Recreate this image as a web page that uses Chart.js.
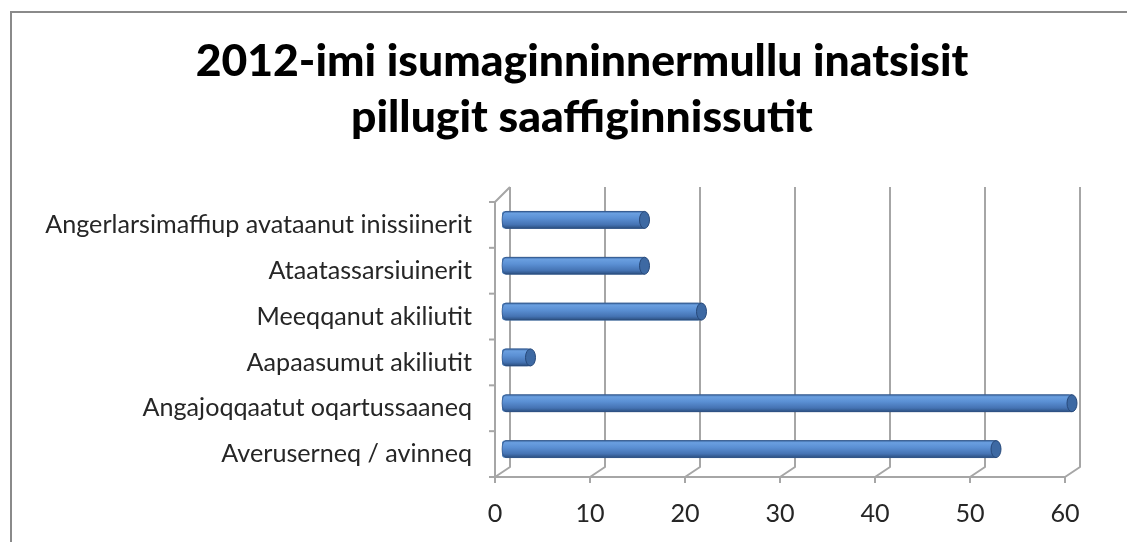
<!DOCTYPE html>
<html>
<head>
<meta charset="utf-8">
<script src="https://cdn.jsdelivr.net/npm/chart.js@4.4.1/dist/chart.umd.min.js"></script>
<style>
  html, body { margin: 0; padding: 0; background: #fff; }
  #wrap { width: 1127px; height: 542px; }
</style>
</head>
<body>
<div id="wrap"><canvas id="chart" width="1127" height="542"></canvas></div>
<script>
// data
const titleLines = ["2012-imi isumaginninnermullu inatsisit", "pillugit saaffiginnissutit"];
const categories = [
    "Angerlarsimaffiup avataanut inissiinerit",
    "Ataatassarsiuinerit",
    "Meeqqanut akiliutit",
    "Aapaasumut akiliutit",
    "Angajoqqaatut oqartussaaneq",
    "Averuserneq / avinneq"
];
const values = [15, 15, 21, 3, 60, 52];
const xTicks = [0, 10, 20, 30, 40, 50, 60];

const FONT = "Lato, 'Open Sans', sans-serif";

// size fonts so text widths match the picture
let mctx = document.createElement("canvas").getContext("2d");
function fitSize(text, weight, target) {
    mctx.font = weight + " 100px " + FONT;
    return 100 * target / mctx.measureText(text).width;
}
let titleSize = fitSize(titleLines[0], "900", 773);
let labelSize = fitSize(categories[0], "normal", 427);

// 3d depth offsets (mid depth -> back / front)
const BACK = { dx: 8, dy: -7 };
const FRONT = { dx: -7, dy: 5 };
const GRID = "#a6a6a6";

const framePlugin = {
    id: "frame",
    beforeDraw(chart) {
        let c = chart.ctx;
        c.save();
        c.strokeStyle = "#8a8a8a";
        c.lineWidth = 2;
        c.beginPath();
        c.moveTo(11, 542);
        c.lineTo(11, 12);
        c.lineTo(1127, 12);
        c.stroke();

        // title
        c.fillStyle = "#000";
        c.font = "900 " + titleSize.toFixed(2) + "px " + FONT;
        c.textAlign = "center";
        c.textBaseline = "alphabetic";
        c.fillText(titleLines[0], 582, 76);
        c.fillText(titleLines[1], 582, 132);
        c.restore();
    },
    beforeDatasetsDraw(chart) {
        let c = chart.ctx;
        let ca = chart.chartArea;
        let xs = chart.scales.x;
        c.save();
        c.strokeStyle = GRID;
        c.lineWidth = 2;
        c.lineJoin = "round";

        let fy = ca.bottom + FRONT.dy;
        xTicks.forEach(v => {
            let mx = xs.getPixelForValue(v);
            c.beginPath();
            c.moveTo(mx + BACK.dx, ca.top + BACK.dy - 3);
            c.lineTo(mx + BACK.dx, ca.bottom + BACK.dy + 2);
            c.lineTo(mx + FRONT.dx, fy);
            c.stroke();
            // tick mark on front axis
            c.beginPath();
            c.moveTo(mx + FRONT.dx, fy);
            c.lineTo(mx + FRONT.dx, fy + 6);
            c.stroke();
        });

        // front floor edge
        let fx0 = xs.getPixelForValue(xTicks[0]) + FRONT.dx;
        let fx1 = xs.getPixelForValue(xTicks[xTicks.length - 1]) + FRONT.dx;
        c.beginPath();
        c.moveTo(fx0, fy);
        c.lineTo(fx1, fy);
        c.stroke();

        // left category axis
        let band = ca.height / categories.length;
        c.beginPath();
        c.moveTo(fx0 + 15, ca.top + BACK.dy - 3);
        c.lineTo(fx0, ca.top + FRONT.dy);
        c.lineTo(fx0, fy);
        c.stroke();
        for (let k = 0; k <= categories.length; k++) {
            let y = ca.top + k * band + FRONT.dy;
            c.beginPath();
            c.moveTo(fx0, y);
            c.lineTo(fx0 - 6, y);
            c.stroke();
        }
        c.restore();
    },
    afterDatasetsDraw(chart) {
        // cylinder shading over the library's bars
        let c = chart.ctx;
        let meta = chart.getDatasetMeta(0);
        c.save();
        meta.data.forEach(el => {
            let h = el.height, top = el.y - h / 2, bot = el.y + h / 2;
            let x0 = el.base, x1 = el.x, r = 4;
            let g = c.createLinearGradient(0, top, 0, bot);
            g.addColorStop(0, "#3e6ba6");
            g.addColorStop(0.12, "#6a9fe0");
            g.addColorStop(0.4, "#5b90d4");
            g.addColorStop(0.78, "#4573b3");
            g.addColorStop(1, "#2b4f80");
            c.fillStyle = g;
            c.beginPath();
            c.moveTo(x1, top);
            c.lineTo(x0 + r, top);
            c.ellipse(x0 + r, el.y, r, h / 2, 0, -Math.PI / 2, Math.PI / 2, true);
            c.lineTo(x1, bot);
            c.closePath();
            c.fill();
            c.strokeStyle = "rgba(40,70,115,0.55)";
            c.lineWidth = 1;
            c.stroke();
            // right end cap
            c.beginPath();
            c.ellipse(x1, el.y, r + 1, h / 2, 0, 0, Math.PI * 2);
            c.fillStyle = "#3d69a3";
            c.fill();
            c.strokeStyle = "#27497a";
            c.stroke();
        });
        c.restore();
    }
};

new Chart(document.getElementById("chart"), {
    type: "bar",
    data: {
        labels: categories,
        datasets: [{
            data: values,
            backgroundColor: "#4f81bd",
            borderWidth: 0,
            borderRadius: 4,
            borderSkipped: false,
            barThickness: 17
        }]
    },
    options: {
        indexAxis: "y",
        responsive: false,
        animation: false,
        layout: { padding: { top: 197, right: 55, bottom: 0, left: 0 } },
        plugins: {
            legend: { display: false },
            title: { display: false },
            tooltip: { enabled: false }
        },
        scales: {
            x: {
                min: 0,
                max: 60,
                afterFit: s => { s.height = 70; },
                afterBuildTicks: s => { s.ticks = xTicks.map(v => ({ value: v })); },
                grid: { display: false, drawTicks: false },
                border: { display: false },
                ticks: {
                    color: "#262626",
                    font: { family: FONT, size: labelSize },
                    padding: 27,
                    labelOffset: FRONT.dx
                }
            },
            y: {
                afterFit: s => { s.width = 502; },
                grid: { display: false, drawTicks: false },
                border: { display: false },
                ticks: {
                    color: "#262626",
                    font: { family: FONT, size: labelSize },
                    padding: 30,
                    labelOffset: FRONT.dy
                }
            }
        }
    },
    plugins: [framePlugin]
});
</script>
</body>
</html>
